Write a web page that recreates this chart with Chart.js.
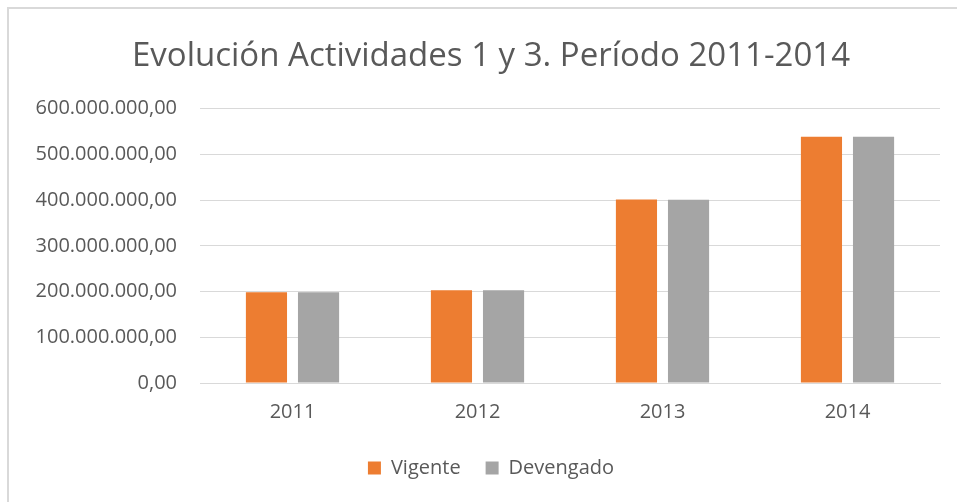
<!DOCTYPE html>
<html>
<head>
<meta charset="utf-8">
<script src="https://cdn.jsdelivr.net/npm/chart.js@4"></script>
<style>
  html,body{margin:0;padding:0;background:#fff;overflow:hidden;}
  #wrap{position:relative;width:957px;height:502px;overflow:hidden;}
  #frame{position:absolute;left:7px;top:7px;width:980px;height:520px;border-left:2px solid #d9d9d9;border-top:2px solid #d9d9d9;pointer-events:none;}
  canvas{position:absolute;left:0;top:0;}
</style>
</head>
<body>
<div id="wrap">
  <canvas id="c" width="975" height="502"></canvas>
  <div id="frame"></div>
</div>
<script>
// datos (valores en pesos)
const years = ["2011","2012","2013","2014"];
const vigente   = [198500000, 203000000, 401000000, 538500000];
const devengado = [198300000, 202800000, 400800000, 538300000];
const yTicks = [0,100000000,200000000,300000000,400000000,500000000,600000000];

const TXT = "#595959", GRID = "#d9d9d9";
const FONT = "'Open Sans', 'DejaVu Sans', sans-serif";

function fmtEs(v){
  const s = Math.round(v).toString().replace(/\B(?=(\d{3})+(?!\d))/g, ".");
  return s + ",00";
}

new Chart(document.getElementById("c"), {
  type: "bar",
  data: {
    labels: years,
    datasets: [
      { label: "Vigente",   data: vigente,   backgroundColor: "#ED7D31", borderWidth: 0,
        categoryPercentage: 0.563, barPercentage: 0.79 },
      { label: "Devengado", data: devengado, backgroundColor: "#A5A5A5", borderWidth: 0,
        categoryPercentage: 0.563, barPercentage: 0.79 }
    ]
  },
  options: {
    responsive: false,
    animation: false,
    layout: { padding: { left: 8, right: 1, top: 37, bottom: 14 } },
    plugins: {
      title: {
        display: true,
        text: "Evolución Actividades 1 y 3. Período 2011-2014",
        color: TXT,
        font: { family: FONT, size: 33, weight: "normal" },
        padding: { top: 0, bottom: 32 }
      },
      legend: {
        position: "bottom",
        labels: {
          color: TXT,
          font: { family: FONT, size: 20 },
          boxWidth: 13, boxHeight: 13,
          padding: 25
        }
      },
      tooltip: { enabled: false }
    },
    scales: {
      x: {
        grid: { display: false, drawTicks: false },
        border: { display: true, color: GRID },
        ticks: { color: TXT, font: { family: FONT, size: 20 }, padding: 17 },
        afterFit: s => { s.height = 50; }
      },
      y: {
        min: 0, max: 600000000,
        afterBuildTicks: s => { s.ticks = yTicks.map(v => ({ value: v })); },
        afterFit: s => { s.width = 192; },
        grid: { color: GRID, drawTicks: false },
        border: { display: false },
        ticks: { color: TXT, font: { family: FONT, size: 20 }, padding: 23,
                 callback: v => fmtEs(v) }
      },
      // eje vacío a la derecha: deja el margen del área de trazado
      yR: {
        position: "right",
        min: 0, max: 1,
        grid: { display: false, drawTicks: false },
        border: { display: false },
        ticks: { display: false },
        afterFit: s => { s.width = 34; }
      }
    }
  }
});
</script>
</body>
</html>
